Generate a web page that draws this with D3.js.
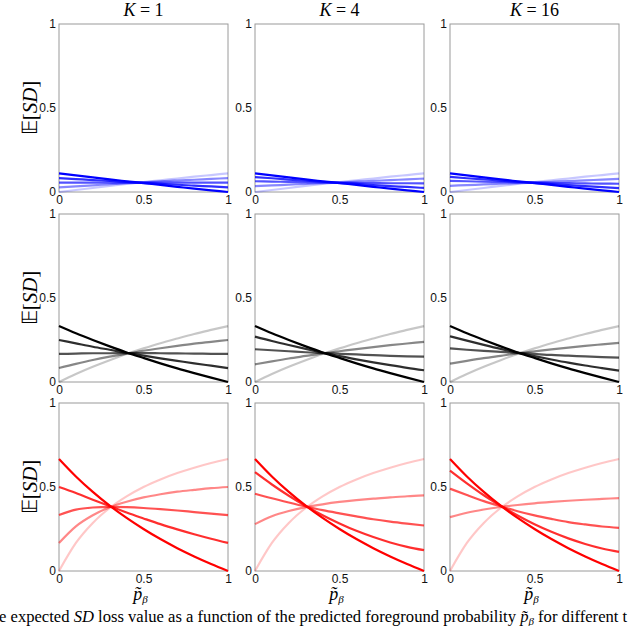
<!DOCTYPE html>
<html lang="en">
<head>
    <meta charset="UTF-8">
    <title>Expected SD loss</title>
    <script src="https://cdnjs.cloudflare.com/ajax/libs/d3/7.8.5/d3.min.js"></script>
    <style>
        body { margin: 0; background: #fff; }
        svg { display: block; }
        .tick text { font-family: "Liberation Sans", Arial, sans-serif; font-size: 12px; fill: #111; }
        .serif { font-family: "Liberation Serif", "Times New Roman", serif; font-weight: normal; }
    </style>
</head>
<body>
<script>
    // predicted foreground probability samples (x axis)
    const pTilde = [0, 0.1, 0.2, 0.3, 0.4, 0.5, 0.6, 0.7, 0.8, 0.9, 1];
    const kValues = ["1", "4", "16"];
    const tickValues = [0, 0.5, 1];

    // top row (blue)
    const blueDark = [0.111, 0.099, 0.087, 0.075, 0.064, 0.053, 0.042, 0.031, 0.020, 0.010, 0];
    const blueLight = [0, 0.012, 0.024, 0.036, 0.048, 0.059, 0.070, 0.080, 0.091, 0.101, 0.111];
    const blueMidK1 = [
        [0.083, 0.077, 0.071, 0.066, 0.060, 0.054, 0.049, 0.043, 0.038, 0.033, 0.028],
        [0.056, 0.056, 0.056, 0.056, 0.056, 0.056, 0.056, 0.056, 0.056, 0.056, 0.056],
        [0.028, 0.034, 0.040, 0.046, 0.052, 0.057, 0.063, 0.068, 0.073, 0.078, 0.083]
    ];
    const blueMidK4 = [
        [0.089, 0.082, 0.074, 0.067, 0.061, 0.054, 0.048, 0.041, 0.035, 0.030, 0.024],
        [0.064, 0.062, 0.060, 0.058, 0.057, 0.055, 0.054, 0.053, 0.052, 0.052, 0.051],
        [0.035, 0.039, 0.044, 0.048, 0.053, 0.057, 0.062, 0.066, 0.071, 0.075, 0.080]
    ];
    const blueMidK16 = [
        [0.090, 0.082, 0.075, 0.068, 0.061, 0.054, 0.047, 0.041, 0.035, 0.029, 0.023],
        [0.066, 0.064, 0.061, 0.059, 0.057, 0.056, 0.054, 0.053, 0.051, 0.050, 0.049],
        [0.037, 0.041, 0.045, 0.049, 0.053, 0.057, 0.061, 0.065, 0.069, 0.074, 0.078]
    ];

    // middle row (black / gray)
    const grayDark = [0.333, 0.290, 0.250, 0.212, 0.176, 0.143, 0.111, 0.081, 0.053, 0.026, 0];
    const grayLight = [0, 0.048, 0.091, 0.130, 0.167, 0.200, 0.231, 0.259, 0.286, 0.310, 0.333];
    const grayMidK1 = [
        [0.250, 0.230, 0.210, 0.192, 0.174, 0.157, 0.141, 0.126, 0.111, 0.097, 0.083],
        [0.167, 0.169, 0.171, 0.171, 0.172, 0.172, 0.171, 0.170, 0.169, 0.168, 0.167],
        [0.083, 0.108, 0.131, 0.151, 0.169, 0.186, 0.201, 0.215, 0.228, 0.239, 0.250]
    ];
    const grayMidK4 = [
        [0.270, 0.244, 0.220, 0.197, 0.175, 0.154, 0.135, 0.117, 0.100, 0.084, 0.070],
        [0.195, 0.189, 0.183, 0.177, 0.172, 0.168, 0.164, 0.160, 0.156, 0.153, 0.151],
        [0.105, 0.123, 0.140, 0.155, 0.170, 0.183, 0.196, 0.208, 0.219, 0.229, 0.239]
    ];
    const grayMidK16 = [
        [0.272, 0.246, 0.221, 0.197, 0.175, 0.154, 0.134, 0.115, 0.098, 0.083, 0.068],
        [0.200, 0.192, 0.185, 0.179, 0.173, 0.167, 0.161, 0.157, 0.152, 0.148, 0.145],
        [0.109, 0.126, 0.142, 0.156, 0.170, 0.182, 0.194, 0.205, 0.215, 0.224, 0.233]
    ];

    // bottom row (red)
    const redDark = [0.667, 0.563, 0.471, 0.389, 0.316, 0.250, 0.190, 0.136, 0.087, 0.042, 0];
    const redLight = [0, 0.167, 0.286, 0.375, 0.444, 0.500, 0.545, 0.583, 0.615, 0.643, 0.667];
    const redMidK1 = [
        [0.500, 0.464, 0.424, 0.386, 0.348, 0.313, 0.279, 0.248, 0.219, 0.192, 0.167],
        [0.333, 0.365, 0.378, 0.382, 0.380, 0.375, 0.368, 0.360, 0.351, 0.342, 0.333],
        [0.167, 0.266, 0.332, 0.379, 0.412, 0.438, 0.457, 0.472, 0.483, 0.493, 0.500]
    ];
    const redMidK4 = [
        [0.588, 0.515, 0.448, 0.387, 0.332, 0.283, 0.239, 0.202, 0.170, 0.144, 0.124],
        [0.460, 0.433, 0.408, 0.384, 0.362, 0.343, 0.325, 0.308, 0.294, 0.282, 0.271],
        [0.279, 0.326, 0.357, 0.380, 0.397, 0.411, 0.422, 0.431, 0.438, 0.445, 0.450]
    ];
    const redMidK16 = [
        [0.598, 0.522, 0.451, 0.388, 0.330, 0.278, 0.233, 0.194, 0.161, 0.134, 0.114],
        [0.490, 0.452, 0.416, 0.385, 0.356, 0.331, 0.310, 0.291, 0.277, 0.265, 0.257],
        [0.321, 0.347, 0.366, 0.381, 0.393, 0.403, 0.411, 0.418, 0.424, 0.429, 0.434]
    ];

    const rows = [
        { color: "#0000ff", dark: blueDark, light: blueLight, mids: [blueMidK1, blueMidK4, blueMidK16] },
        { color: "#000000", dark: grayDark, light: grayLight, mids: [grayMidK1, grayMidK4, grayMidK16] },
        { color: "#ff0000", dark: redDark, light: redLight, mids: [redMidK1, redMidK4, redMidK16] }
    ];
    // darkest first, lightest last
    const opacities = [1, 0.82, 0.68, 0.47, 0.22];

    const colX = [59, 255, 450];
    const rowY = [24, 214, 403];
    const panelW = 169, panelH = 168;

    const svg = d3.select("body").append("svg")
        .attr("width", 640)
        .attr("height", 626);

    const x = d3.scaleLinear().domain([0, 1]).range([0, panelW]);
    const y = d3.scaleLinear().domain([0, 1]).range([panelH, 0]);

    const line = d3.line()
        .x((d, i) => x(pTilde[i]))
        .y(d => y(d))
        .curve(d3.curveMonotoneX);

    rows.forEach((row, r) => {
        kValues.forEach((k, c) => {
            const g = svg.append("g")
                .attr("transform", `translate(${colX[c]},${rowY[r]})`);

            const curves = [row.dark, ...row.mids[c], row.light];

            g.append("g")
                .attr("class", "x axis")
                .attr("transform", `translate(0,${panelH})`)
                .call(d3.axisBottom(x).tickValues(tickValues).tickFormat(d3.format("")).tickSize(0).tickPadding(3))
                .call(a => a.select(".domain").remove());

            g.append("g")
                .attr("class", "y axis")
                .call(d3.axisLeft(y).tickValues(tickValues).tickFormat(d3.format("")).tickSize(0).tickPadding(3))
                .call(a => a.select(".domain").remove());

            g.append("rect")
                .attr("width", panelW)
                .attr("height", panelH)
                .attr("fill", "none")
                .attr("stroke", "#9a9a9a")
                .attr("stroke-width", 1);

            // lightest drawn first so the dark curves stay on top
            g.selectAll("path.curve")
                .data(curves.map((v, i) => ({ v, i })).reverse())
                .enter()
                .append("path")
                .attr("class", "curve")
                .attr("d", d => line(d.v))
                .attr("fill", "none")
                .attr("stroke", row.color)
                .attr("stroke-opacity", d => opacities[d.i])
                .attr("stroke-width", 2.2);
        });

        // y label
        const yl = svg.append("text")
            .attr("class", "serif")
            .attr("transform", `translate(37,${rowY[r] + panelH / 2}) rotate(-90)`)
            .attr("text-anchor", "middle")
            .attr("font-size", 21);
        yl.append("tspan").text("𝔼[");
        yl.append("tspan").attr("font-style", "italic").text("SD");
        yl.append("tspan").text("]");
    });

    // column titles and x labels
    kValues.forEach((k, c) => {
        const t = svg.append("text")
            .attr("class", "serif")
            .attr("x", colX[c] + panelW / 2)
            .attr("y", 16)
            .attr("text-anchor", "middle")
            .attr("font-size", 18);
        t.append("tspan").attr("font-style", "italic").text("K");
        t.append("tspan").text(" = " + k);

        const xl = svg.append("text")
            .attr("class", "serif")
            .attr("x", colX[c] + panelW / 2 - 3)
            .attr("y", 600)
            .attr("text-anchor", "middle")
            .attr("font-size", 18);
        xl.append("tspan").attr("font-style", "italic").text("p\u0303");
        xl.append("tspan").attr("font-style", "italic").attr("font-size", 11).attr("dy", 3).text("β");
    });

    // caption (starts cut on the left, as in the figure crop)
    const cap = svg.append("text")
        .attr("class", "serif")
        .attr("x", -1)
        .attr("y", 622)
        .attr("font-size", 16.6);
    cap.append("tspan").text("e expected ");
    cap.append("tspan").attr("font-style", "italic").text("SD");
    cap.append("tspan").text(" loss value as a function of the predicted foreground probability ");
    cap.append("tspan").attr("font-style", "italic").text("p\u0303");
    cap.append("tspan").attr("font-style", "italic").attr("font-size", 11).attr("dy", 3).text("β");
    cap.append("tspan").attr("dy", -3).text(" for different t");
</script>
</body>
</html>
